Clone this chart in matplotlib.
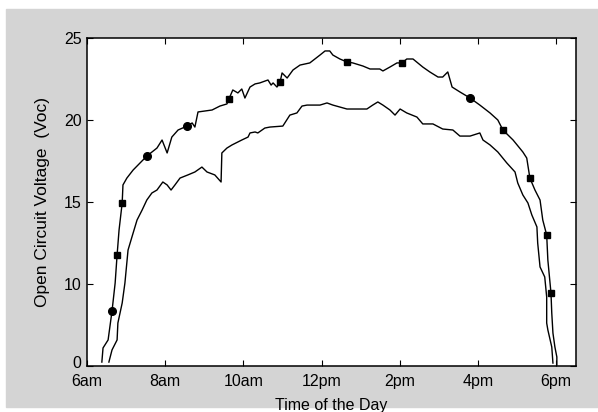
import matplotlib
matplotlib.use("Agg")
import matplotlib.pyplot as plt
import matplotlib.patches as mpatches
import matplotlib.transforms as mtransforms

# --- data (time in hours, voltage as drawn; bottom of axis is labelled 0) ---
upper_t = [6.38, 6.41, 6.54, 6.64, 6.72, 6.77, 6.82, 6.90, 6.92, 7.02, 7.18, 7.53,
           7.79, 7.92, 8.05, 8.17, 8.33, 8.56, 8.69, 8.76, 8.84, 9.20, 9.40, 9.58,
           9.63, 9.73, 9.86, 9.96, 10.04, 10.17, 10.30, 10.42, 10.63, 10.71, 10.76,
           10.86, 10.94, 10.99, 11.12, 11.27, 11.45, 11.70, 11.96, 12.09, 12.21,
           12.29, 12.47, 12.65, 12.80, 13.06, 13.24, 13.49, 13.57, 13.75, 13.93,
           14.06, 14.18, 14.34, 14.59, 14.77, 14.98, 15.10, 15.23, 15.34, 15.54,
           15.80, 16.05, 16.31, 16.51, 16.64, 16.90, 17.15, 17.25, 17.33, 17.46,
           17.59, 17.66, 17.76, 17.79, 17.87, 17.89, 17.92, 17.97, 18.02, 18.02]
upper_v = [5.24, 6.10, 6.59, 8.35, 10.06, 11.77, 13.29, 14.94, 16.04, 16.46, 16.95, 17.80,
           18.29, 18.78, 17.99, 18.96, 19.39, 19.63, 19.82, 19.57, 20.49, 20.61, 20.85, 20.98,
           21.28, 21.83, 21.65, 21.89, 21.34, 22.01, 22.20, 22.26, 22.44, 22.13, 22.26,
           22.01, 22.32, 22.87, 22.56, 23.05, 23.35, 23.48, 23.96, 24.21, 24.21,
           23.96, 23.72, 23.54, 23.48, 23.29, 23.11, 23.11, 22.99, 23.23, 23.48,
           23.48, 23.72, 23.72, 23.23, 22.93, 22.62, 22.62, 22.93, 22.01, 21.71,
           21.34, 20.91, 20.43, 20.00, 19.39, 18.78, 18.05, 17.68, 16.46, 15.73,
           15.12, 13.90, 12.99, 11.46, 9.45, 8.23, 7.01, 6.16, 5.55, 5.06]

lower_t = [6.56, 6.64, 6.77, 6.79, 6.90, 6.97, 7.05, 7.15, 7.28, 7.41, 7.53, 7.66,
           7.79, 7.94, 8.05, 8.15, 8.25, 8.38, 8.58, 8.76, 8.94, 9.07, 9.27, 9.43,
           9.45, 9.58, 9.71, 9.96, 10.12, 10.17, 10.30, 10.37, 10.55, 10.68, 11.01,
           11.19, 11.37, 11.50, 11.63, 11.96, 12.14, 12.29, 12.47, 12.65, 12.80,
           13.16, 13.31, 13.44, 13.57, 13.75, 13.88, 14.01, 14.18, 14.44, 14.59,
           14.85, 15.10, 15.36, 15.54, 15.80, 16.05, 16.13, 16.31, 16.51, 16.74,
           16.95, 17.02, 17.15, 17.28, 17.38, 17.51, 17.53, 17.59, 17.71, 17.76,
           17.76, 17.79, 17.89, 17.92]
lower_v = [5.24, 5.98, 6.59, 7.62, 8.84, 10.06, 12.07, 12.87, 13.90, 14.51, 15.12, 15.55,
           15.73, 16.22, 16.04, 15.73, 16.04, 16.46, 16.65, 16.83, 17.13, 16.83, 16.65, 16.22,
           17.99, 18.29, 18.48, 18.78, 18.96, 19.21, 19.27, 19.21, 19.51, 19.57, 19.63,
           20.30, 20.43, 20.85, 20.91, 20.91, 21.04, 20.91, 20.79, 20.67, 20.67,
           20.67, 20.91, 21.10, 20.91, 20.61, 20.30, 20.67, 20.43, 20.18, 19.76,
           19.76, 19.45, 19.39, 19.02, 19.02, 19.21, 18.78, 18.48, 18.05, 17.38,
           16.83, 16.16, 15.43, 14.94, 14.21, 13.48, 12.50, 11.04, 10.43, 9.21,
           7.62, 7.20, 6.16, 5.18]

circle_t = [6.64, 7.53, 8.56, 15.80]
circle_v = [8.35, 17.80, 19.63, 21.34]
square_t = [6.77, 6.90, 9.63, 10.94, 12.65, 14.06, 16.64, 17.33, 17.76, 17.87]
square_v = [11.77, 14.94, 21.28, 22.32, 23.54, 23.48, 19.39, 16.46, 12.99, 9.45]

x_ticks = [6, 8, 10, 12, 14, 16, 18]
x_labels = ["6am", "8am", "10am", "12pm", "2pm", "4pm", "6pm"]
y_ticks = [5, 10, 15, 20, 25]
y_labels = ["0", "10", "15", "20", "25"]

plt.rcParams['font.family'] = ['Liberation Sans', 'DejaVu Sans']

fig = plt.figure(figsize=(5.98, 4.12), dpi=100)
fig.patch.set_facecolor("white")
# grey window area (thin white margin on the top and left, as in the screenshot)
fig.patches.append(mpatches.Rectangle((6 / 598, 5 / 412), 1 - 6 / 598, 398 / 412,
                                      transform=fig.transFigure, color="#d4d4d4",
                                      zorder=-10))

ax = fig.add_axes([87 / 598, 46 / 412, 489 / 598, 328 / 412])
ax.set_zorder(1)
ax.set_facecolor("white")

ax.plot(upper_t, upper_v, color="black", lw=1.0)
ax.plot(lower_t, lower_v, color="black", lw=1.0)
ax.plot(circle_t, circle_v, "o", color="black", ms=5.5)
ax.plot(square_t, square_v, "s", color="black", ms=5)

ax.set_xlim(6, 18.51)
ax.set_ylim(5, 25)
ax.set_xticks(x_ticks)
ax.set_xticklabels(x_labels)
ax.set_yticks(y_ticks)
ax.set_yticklabels(y_labels)
ax.tick_params(direction="in", top=True, right=True, length=4.5, width=0.8,
               labelsize=11.5, pad=4, colors="black")
ax.tick_params(axis="x", pad=6)
for s in ax.spines.values():
    s.set_linewidth(1.1)

# lift the bottom "0" a little so it clears "6am"
zero_lbl = ax.get_yticklabels()[0]
zero_lbl.set_transform(zero_lbl.get_transform() +
                       mtransforms.ScaledTranslation(0, 3 / 72, fig.dpi_scale_trans))

ax.set_ylabel("Open Circuit Voltage  (Voc)", fontsize=12.5, labelpad=10)
ax.set_xlabel("Time of the Day", fontsize=11.5, labelpad=6)

fig.savefig("out.png", dpi=100)
